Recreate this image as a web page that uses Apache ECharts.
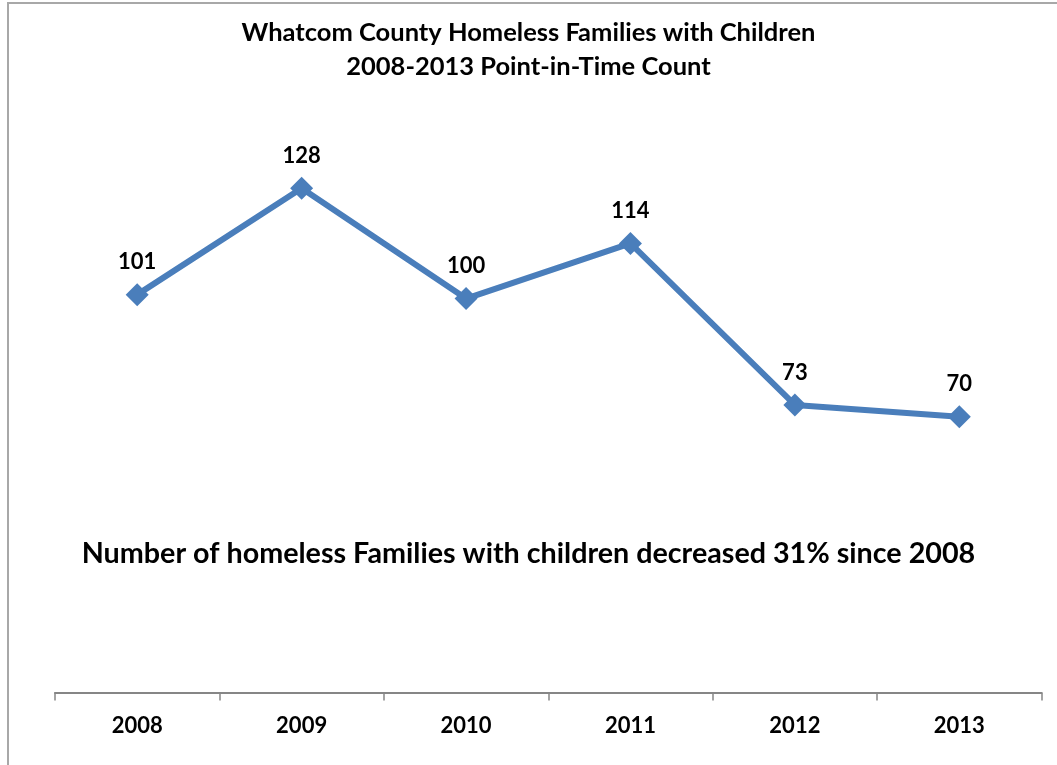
<!DOCTYPE html>
<html>
<head>
<meta charset="utf-8">
<script src="https://cdn.jsdelivr.net/npm/echarts@6/dist/echarts.min.js"></script>
<style>
  html, body { margin: 0; padding: 0; background: #ffffff; }
  #chart { width: 1057px; height: 765px; }
</style>
</head>
<body>
<div id="chart"></div>
<script>
// Point-in-Time count of homeless families with children, Whatcom County
const years = ['2008', '2009', '2010', '2011', '2012', '2013'];
const families = [101, 128, 100, 114, 73, 70];

const titleLines = ['Whatcom County Homeless Families with Children', '2008-2013 Point-in-Time Count'];
const note = 'Number of homeless Families with children decreased 31% since 2008';

const FONT = 'Lato, "Liberation Sans", sans-serif';
const BLUE = '#4a7ebb';

const chart = echarts.init(document.getElementById('chart'), null, { renderer: 'canvas' });
chart.setOption({
  backgroundColor: '#ffffff',
  animation: false,
  title: [
    {
      text: titleLines.join('\n'),
      left: 'center',
      top: 11,
      textStyle: { fontFamily: FONT, fontWeight: 'bold', fontSize: 25.5, lineHeight: 34, color: '#000' }
    },
    {
      text: note,
      left: 'center',
      top: 534,
      textStyle: { fontFamily: FONT, fontWeight: 'bold', fontSize: 28.7, color: '#000' }
    }
  ],
  graphic: [
    {
      // outer chart-area frame
      type: 'rect',
      shape: { x: 8, y: 3, width: 1200, height: 900 },
      style: { fill: 'none', stroke: '#a8a8a8', lineWidth: 2 },
      silent: true,
      z: -1
    }
  ],
  grid: { left: 55, right: 15.5, top: 141, bottom: 72.5 },
  xAxis: {
    type: 'category',
    data: years,
    boundaryGap: true,
    axisLine: { lineStyle: { color: '#868686', width: 2 } },
    axisTick: { show: true, length: 8, lineStyle: { color: '#868686', width: 1.5 } },
    axisLabel: { fontFamily: FONT, fontWeight: 'bold', fontSize: 22, color: '#000', margin: 22 }
  },
  yAxis: {
    type: 'value',
    min: 0,
    max: 140,
    show: false,
    splitLine: { show: false }
  },
  series: [
    {
      type: 'line',
      data: families,
      symbol: 'diamond',
      symbolSize: 23,
      lineStyle: { color: BLUE, width: 6 },
      itemStyle: { color: BLUE },
      label: {
        show: true,
        position: 'top',
        distance: 10,
        fontFamily: FONT,
        fontWeight: 'bold',
        fontSize: 22,
        color: '#000'
      }
    }
  ]
});
</script>
</body>
</html>
